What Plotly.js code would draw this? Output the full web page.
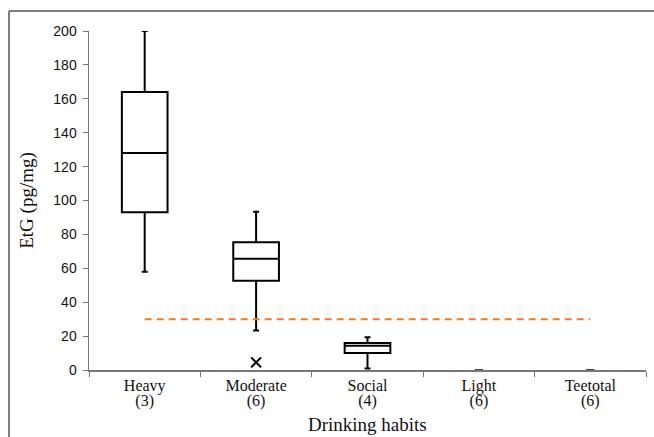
<!DOCTYPE html>
<html>
<head>
<meta charset="utf-8">
<script src="https://cdn.plot.ly/plotly-3.0.1.min.js"></script>
<style>
html,body{margin:0;padding:0;background:#fff;}
#chart{width:654px;height:437px;}
</style>
</head>
<body>
<div id="chart"></div>
<script>
// Categories and tick labels
const categories = ["Heavy", "Moderate", "Social", "Light", "Teetotal"];
const groupCounts = ["(3)", "(6)", "(4)", "(6)", "(6)"];

// Box statistics (groups with spread)
const boxCategories = ["Heavy", "Moderate", "Social"];
const lowerWhisker = [58, 23.3, 0.9];
const q1Values = [93, 52.7, 10.1];
const medianValues = [128, 65.6, 14.3];
const q3Values = [164, 75.3, 16];
const upperWhisker = [200, 93.3, 19.3];

// Groups whose values are all zero
const zeroCategories = ["Light", "Teetotal"];
const zeroValues = [0, 0];

// Outlier
const outlierCategory = ["Moderate"];
const outlierValue = [4.5];

// Cut-off line
const cutoffCategories = ["Heavy", "Teetotal"];
const cutoffValue = [30, 30];

const xTitle = "Drinking habits";
const yTitle = "EtG (pg/mg)";

const SERIF = "Liberation Serif";
const SANS = "Liberation Sans";

const traces = [
  {
    type: "box",
    x: boxCategories,
    q1: q1Values,
    median: medianValues,
    q3: q3Values,
    lowerfence: lowerWhisker,
    upperfence: upperWhisker,
    boxpoints: false,
    fillcolor: "rgba(255,255,255,0)",
    line: {color: "#000", width: 2},
    width: 0.41,
    whiskerwidth: 0.13,
    hoverinfo: "skip",
    showlegend: false
  },
  {
    type: "scatter",
    mode: "markers",
    x: zeroCategories,
    y: zeroValues,
    xaxis: "x2",
    marker: {symbol: "line-ew-open", size: 6, color: "#000", line: {color: "#000", width: 1.5}},
    showlegend: false,
    hoverinfo: "skip"
  },
  {
    type: "scatter",
    mode: "markers",
    x: outlierCategory,
    y: outlierValue,
    marker: {symbol: "x-thin-open", size: 10, color: "#000", line: {color: "#000", width: 2}},
    showlegend: false,
    hoverinfo: "skip"
  },
  {
    type: "scatter",
    mode: "lines",
    x: cutoffCategories,
    y: cutoffValue,
    line: {color: "#f47a32", width: 2, dash: "7px,5px"},
    showlegend: false,
    hoverinfo: "skip"
  }
];

const layout = {
  width: 654,
  height: 437,
  margin: {l: 89, r: 8, t: 31, b: 67},
  paper_bgcolor: "#fff",
  plot_bgcolor: "#fff",
  showlegend: false,
  font: {family: SERIF},
  xaxis: {
    type: "category",
    categoryorder: "array",
    categoryarray: categories,
    tickmode: "array",
    tickvals: categories,
    ticktext: categories,
    range: [-0.5, 4.5],
    tickson: "boundaries",
    ticks: "outside",
    ticklen: 5,
    tickcolor: "#777",
    showline: true,
    linecolor: "#777",
    linewidth: 1.5,
    showgrid: false,
    zeroline: false,
    tickfont: {family: SERIF, size: 16, color: "#111"}
  },
  xaxis2: {
    type: "category",
    overlaying: "x",
    anchor: "y",
    side: "bottom",
    categoryorder: "array",
    categoryarray: categories,
    tickmode: "array",
    tickvals: categories,
    ticktext: groupCounts,
    range: [-0.5, 4.5],
    ticks: "",
    showline: false,
    showgrid: false,
    zeroline: false,
    ticklabelstandoff: 19,
    tickfont: {family: SERIF, size: 16, color: "#111"}
  },
  yaxis: {
    range: [0, 200],
    tickvals: [0, 20, 40, 60, 80, 100, 120, 140, 160, 180, 200],
    ticks: "outside",
    ticklen: 5,
    tickcolor: "#777",
    showline: true,
    linecolor: "#777",
    linewidth: 1.5,
    showgrid: false,
    zeroline: false,
    ticklabelstandoff: 3,
    tickfont: {family: SANS, size: 14, color: "#111"},
    title: {text: yTitle, font: {family: SERIF, size: 19, color: "#111"}, standoff: 14}
  },
  annotations: [
    {text: xTitle, xref: "paper", yref: "paper", x: 0.5, y: -0.196, xanchor: "center", yanchor: "bottom",
     borderpad: 0, showarrow: false, font: {family: SERIF, size: 19, color: "#111"}}
  ],
  shapes: [
    {type: "line", xref: "paper", yref: "paper", x0: -0.1436, x1: 1.02, y0: 1.059, y1: 1.059, line: {color: "#555", width: 1.5}},
    {type: "line", xref: "paper", yref: "paper", x0: -0.1436, x1: -0.1436, y0: 1.059, y1: -0.25, line: {color: "#555", width: 1.5}}
  ]
};

Plotly.newPlot("chart", traces, layout, {displayModeBar: false, staticPlot: true});
</script>
</body>
</html>
